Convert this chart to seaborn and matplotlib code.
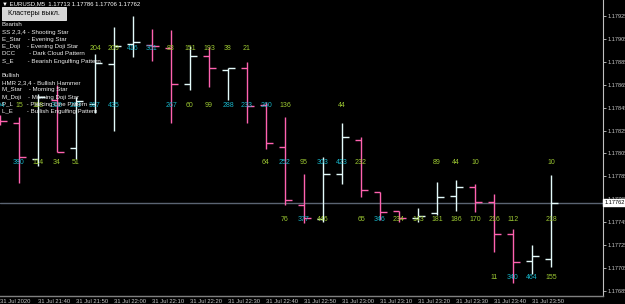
import numpy as np
import pandas as pd
import matplotlib
matplotlib.use('Agg')
import matplotlib.pyplot as plt
import seaborn as sns
from matplotlib import font_manager

# M5 bars, EURUSD, 31 Jul 2020
times = ['21:30', '21:35', '21:40', '21:45', '21:50', '21:55', '22:00', '22:05', '22:10', '22:15',
         '22:20', '22:25', '22:30', '22:35', '22:40', '22:45', '22:50', '22:55', '23:00', '23:05',
         '23:10', '23:15', '23:20', '23:25', '23:30', '23:35', '23:40', '23:45', '23:50', '23:55']
opens = [1.17836, 1.17832, 1.17800, 1.17852, 1.17810, 1.17848, 1.17883, 1.17901, 1.17900, 1.17897,
         1.17866, 1.17890, 1.17878, 1.17880, 1.17847, 1.17811, 1.17760, 1.17748, 1.17787, 1.17817,
         1.17771, 1.17755, 1.17749, 1.17753, 1.17768, 1.17776, 1.17763, 1.17735, 1.17711, 1.17713]
highs = [1.17839, 1.17837, 1.17857, 1.17865, 1.17854, 1.17892, 1.17915, 1.17925, 1.17914, 1.17913,
         1.17899, 1.17898, 1.17880, 1.17885, 1.17850, 1.17837, 1.17787, 1.17802, 1.17832, 1.17819,
         1.17771, 1.17755, 1.17757, 1.17780, 1.17782, 1.17778, 1.17770, 1.17739, 1.17725, 1.17786]
lows = [1.17830, 1.17779, 1.17794, 1.17806, 1.17800, 1.17840, 1.17825, 1.17889, 1.17886, 1.17832,
        1.17860, 1.17863, 1.17852, 1.17832, 1.17809, 1.17760, 1.17744, 1.17745, 1.17778, 1.17767,
        1.17747, 1.17745, 1.17745, 1.17751, 1.17755, 1.17754, 1.17719, 1.17692, 1.17700, 1.17706]
closes = [1.17833, 1.17802, 1.17854, 1.17806, 1.17851, 1.17884, 1.17899, 1.17902, 1.17899, 1.17866,
          1.17890, 1.17880, 1.17880, 1.17846, 1.17814, 1.17764, 1.17749, 1.17787, 1.17819, 1.17773,
          1.17754, 1.17749, 1.17750, 1.17767, 1.17776, 1.17763, 1.17735, 1.17710, 1.17715, 1.17762]

# cluster volume labels: bar index, price level, text, kind (g = green, c = cyan)
lab_bar = [5, 6, 7, 8, 9, 10, 11, 12, 13,
           0, 1, 2, 3, 4, 5, 6, 9, 10, 11, 12, 13, 14, 15, 18,
           1, 2, 3, 4, 14, 15, 16, 17, 18, 19, 23, 24, 25, 29,
           15, 16, 17, 19, 20, 21, 22, 23, 24, 25, 26, 27, 29,
           26, 27, 28, 29]
lab_level = [1.17900] * 9 + [1.17850] * 15 + [1.17800] * 14 + [1.17750] * 13 + [1.17700] * 4
lab_text = ['204', '209', '416', '361', '83', '151', '193', '38', '21',
            '304', '15', '118', '362', '213', '317', '435', '267', '60', '99', '288', '233', '260', '136', '44',
            '380', '114', '34', '51', '64', '252', '95', '303', '423', '232', '89', '44', '10', '10',
            '76', '377', '446', '65', '346', '234', '143', '181', '186', '170', '216', '112', '218',
            '11', '340', '464', '155']
lab_kind = (list('ggccggggg')
            + list('cggcccccggcccgg')
            + list('cggggcgccggggg')
            + list('gcggcgggggggg')
            + list('gccg'))

# axis labels
ytick_vals = [1.17925, 1.17905, 1.17885, 1.17865, 1.17845, 1.17825, 1.17805,
              1.17785, 1.17765, 1.17745, 1.17725, 1.17705, 1.17685]
xtick_bars = [0, 2, 4, 6, 8, 10, 12, 14, 16, 18, 20, 22, 24, 26, 28]
xtick_labels = ['31 Jul 2020'] + ['31 Jul ' + times[i] for i in xtick_bars[1:]]

legend_lines = ['Bearish',
                'SS 2,3,4 - Shooting Star',
                'E_Star    - Evening Star',
                'E_Doji    - Evening Doji Star',
                'DCC        - Dark Cloud Pattern',
                'S_E        - Bearish Engulfing Pattern',
                '',
                'Bullish',
                'HMR 2,3,4 - Bullish Hammer',
                'M_Star    - Morning Star',
                'M_Doji    - Morning Doji Star',
                'P_L        - Piercing Line Pattern',
                'L_E        - Bullish Engulfing Pattern']

df = pd.DataFrame({'time': times, 'open': opens, 'high': highs, 'low': lows, 'close': closes})
df['x'] = np.arange(len(df))
df['bull'] = df['close'] >= df['open']

sns.set_style('dark', rc={'axes.facecolor': 'black', 'figure.facecolor': 'black'})
plt.rcParams['font.family'] = ['Liberation Sans', 'DejaVu Sans']
names = {f.name for f in font_manager.fontManager.ttflist}
narrow = 'Liberation Sans Narrow' if 'Liberation Sans Narrow' in names else 'Liberation Sans'

W, H = 625, 304
fig = plt.figure(figsize=(W / 100, H / 100), dpi=100)
ax = fig.add_axes([0, 8 / H, 603 / W, 296 / H])
ax.set_facecolor('black')

bull_col = '#e4fbfb'
bear_col = '#ff62b0'
cols = np.where(df['bull'], bull_col, bear_col)

ax.axhline(df['close'].iloc[-1], color='#5b6472', lw=1.0, zorder=0)
ax.vlines(df['x'], df['low'], df['high'], colors=cols, lw=1.0)
ax.hlines(df['open'], df['x'] - 0.33, df['x'], colors=cols, lw=1.0)
ax.hlines(df['close'], df['x'], df['x'] + 0.36, colors=cols, lw=1.0)

kind_col = {'g': '#9cc832', 'c': '#17b4c8'}
for b, lv, t, k in zip(lab_bar, lab_level, lab_text, lab_kind):
    ax.text(b, lv, t, ha='center', va='top', fontsize=5, color=kind_col[k], zorder=3)

ax.set_xlim(0, 603 / 19)
ax.set_ylim(1.176805, 1.179390)

ax.yaxis.tick_right()
ax.set_yticks(ytick_vals)
ax.set_yticklabels([f'{v:.5f}' for v in ytick_vals], family=narrow)
ax.set_xticks(xtick_bars)
ax.set_xticklabels(xtick_labels, ha='left', family=narrow)
ax.tick_params(axis='y', colors='#c8c8c8', labelsize=4.1, length=2, width=0.6, pad=1.0)
ax.tick_params(axis='x', colors='#c8c8c8', labelsize=4.2, length=2, width=0.6, pad=0.5)
ax.grid(False)
for s in ['top', 'left']:
    ax.spines[s].set_visible(False)
ax.spines['right'].set_visible(True)
ax.spines['right'].set_color('#c0c0c0')
ax.spines['right'].set_linewidth(0.8)
ax.spines['bottom'].set_visible(True)
ax.spines['bottom'].set_color('#808080')
ax.spines['bottom'].set_linewidth(1.0)

# current price box
ax.annotate(f"{df['close'].iloc[-1]:.5f}", xy=(1, df['close'].iloc[-1]),
            xycoords=('axes fraction', 'data'), xytext=(1.0, 0), textcoords='offset points',
            ha='left', va='center', fontsize=4.1, color='black', family=narrow,
            bbox=dict(boxstyle='square,pad=0.2', fc='white', ec='white'),
            annotation_clip=False, zorder=10)

# header, button and pattern legend
fig.text(2 / W, 1 - 3.5 / H, '\u25bc EURUSD,M5  1.17713 1.17786 1.17706 1.17762',
         fontsize=4.3, color='white', va='center', ha='left')
fig.patches.append(plt.Rectangle((2 / W, 1 - 19.5 / H), 64 / W, 12 / H, transform=fig.transFigure,
                                 fc='#d6d6d6', ec='#f0f0f0', lw=0.6))
fig.text(34 / W, 1 - 13.5 / H, 'Кластеры выкл.', fontsize=5.0, color='black',
         ha='center', va='center')
for k, line in enumerate(legend_lines):
    if line:
        fig.text(2 / W, 1 - (25 + 7.2 * k) / H, line, fontsize=4.4, color='#eeeeee',
                 family=narrow, ha='left', va='center', zorder=5)

fig.savefig('out.png', dpi=100, facecolor='black')
